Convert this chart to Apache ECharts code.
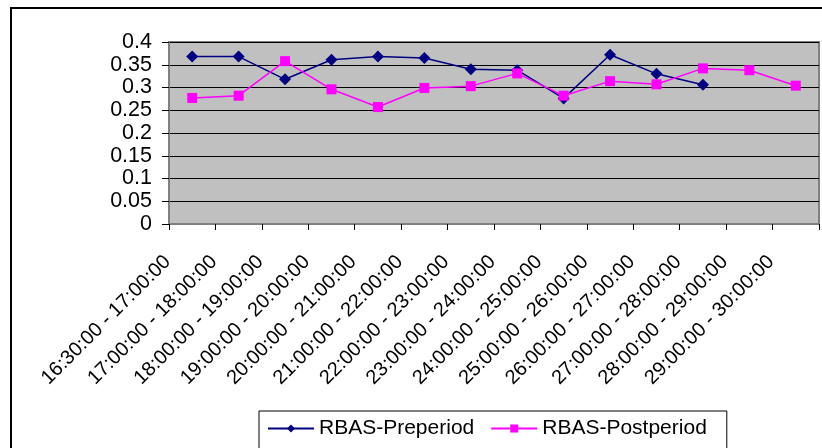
<!DOCTYPE html>
<html>
<head>
<meta charset="utf-8">
<script src="https://cdn.jsdelivr.net/npm/echarts@6/dist/echarts.min.js"></script>
<style>
  html, body { margin: 0; padding: 0; background: #fff; }
  #chart { width: 822px; height: 448px; }
</style>
</head>
<body>
<div id="chart"></div>
<script>
// Hourly intervals on the category axis
var categories = [
  '16:30:00 - 17:00:00', '17:00:00 - 18:00:00', '18:00:00 - 19:00:00',
  '19:00:00 - 20:00:00', '20:00:00 - 21:00:00', '21:00:00 - 22:00:00',
  '22:00:00 - 23:00:00', '23:00:00 - 24:00:00', '24:00:00 - 25:00:00',
  '25:00:00 - 26:00:00', '26:00:00 - 27:00:00', '27:00:00 - 28:00:00',
  '28:00:00 - 29:00:00', '29:00:00 - 30:00:00'
];

// RBAS values per interval (no pre-period data for the last two)
var preperiod = [0.368, 0.368, 0.318, 0.361, 0.368, 0.365, 0.340, 0.338, 0.276, 0.372, 0.330, 0.306, null, null];
var postperiod = [0.277, 0.282, 0.358, 0.296, 0.257, 0.299, 0.303, 0.331, 0.282, 0.314, 0.307, 0.342, 0.338, 0.304];

var yTicks = { min: 0, max: 0.4, interval: 0.05 };

var font = 'Liberation Sans, Arial, sans-serif';
var chart = echarts.init(document.getElementById('chart'), null, { renderer: 'canvas' });

chart.setOption({
  animation: false,
  backgroundColor: '#ffffff',
  textStyle: { fontFamily: font, color: '#000' },
  graphic: [{
    type: 'rect',
    shape: { x: 11, y: 8, width: 900, height: 500 },
    style: { fill: 'none', stroke: '#000', lineWidth: 2 },
    silent: true,
    z: -1
  }],
  grid: {
    left: 169, right: 3, top: 42, bottom: 224,
    show: true,
    backgroundColor: '#C0C0C0',
    borderColor: '#808080',
    borderWidth: 2
  },
  legend: {
    left: 259, top: 411,
    orient: 'horizontal',
    padding: [7, 20, 10, 8],
    itemGap: 16,
    itemWidth: 46,
    itemHeight: 10,
    borderColor: '#000',
    borderWidth: 1,
    backgroundColor: '#fff',
    textStyle: { fontFamily: font, fontSize: 21, color: '#000' },
    data: ['RBAS-Preperiod', 'RBAS-Postperiod']
  },
  xAxis: {
    type: 'category',
    data: categories,
    boundaryGap: true,
    axisLine: { lineStyle: { color: '#808080', width: 2 } },
    axisTick: { show: true, interval: 0, length: 6, lineStyle: { color: '#000' } },
    axisLabel: {
      interval: 0,
      rotate: 45,
      margin: 10,
      padding: [0, 35, 0, 0],
      fontFamily: font,
      fontSize: 20,
      color: '#000'
    },
    splitLine: { show: false }
  },
  yAxis: {
    type: 'value',
    min: yTicks.min,
    max: yTicks.max,
    interval: yTicks.interval,
    axisLine: { show: true, lineStyle: { color: '#808080', width: 2 } },
    axisTick: { show: true, length: 7, lineStyle: { color: '#000' } },
    axisLabel: {
      margin: 17,
      fontFamily: font,
      fontSize: 21.5,
      color: '#000'
    },
    splitLine: { show: true, lineStyle: { color: '#000', width: 1 } }
  },
  series: [
    {
      name: 'RBAS-Preperiod',
      type: 'line',
      data: preperiod,
      symbol: 'diamond',
      symbolSize: 12,
      connectNulls: false,
      lineStyle: { color: '#000080', width: 1.5 },
      itemStyle: { color: '#000080' }
    },
    {
      name: 'RBAS-Postperiod',
      type: 'line',
      data: postperiod,
      symbol: 'rect',
      symbolSize: 10,
      lineStyle: { color: '#FF00FF', width: 1.5 },
      itemStyle: { color: '#FF00FF' }
    }
  ]
});
</script>
</body>
</html>
